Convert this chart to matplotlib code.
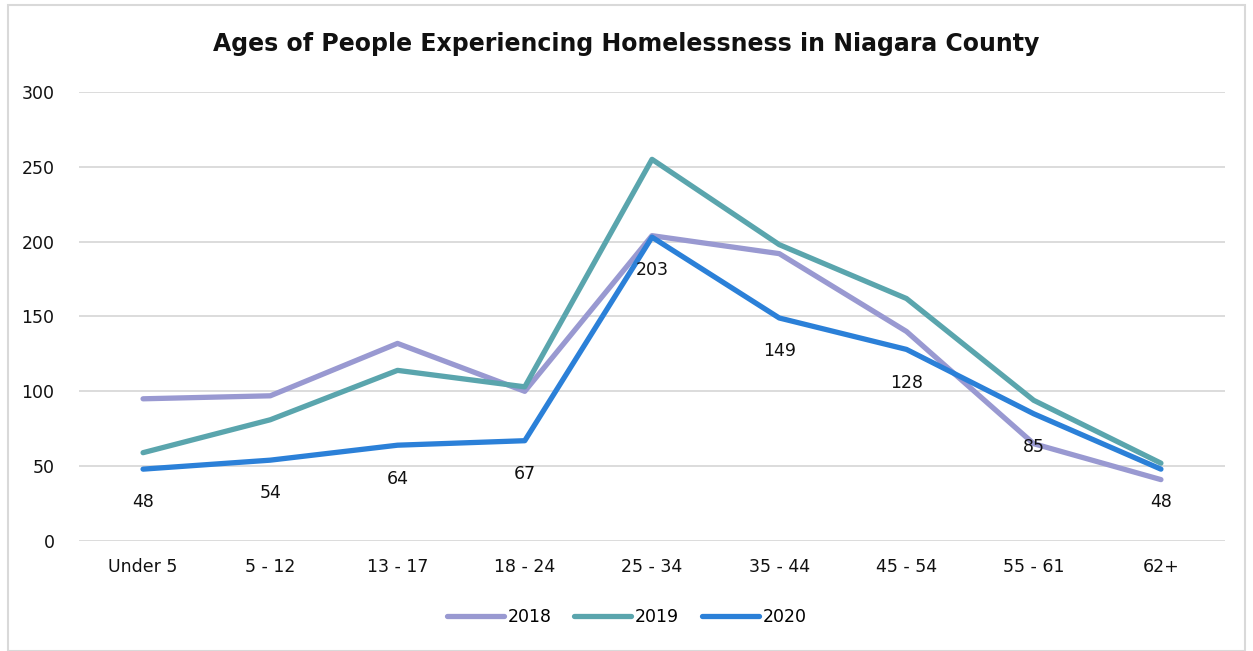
import matplotlib.pyplot as plt
from matplotlib.patches import Rectangle

categories = ["Under 5", "5 - 12", "13 - 17", "18 - 24", "25 - 34", "35 - 44", "45 - 54", "55 - 61", "62+"]
y2018 = [95, 97, 132, 100, 204, 192, 140, 65, 41]
y2019 = [59, 81, 114, 103, 255, 198, 162, 94, 52]
y2020 = [48, 54, 64, 67, 203, 149, 128, 85, 48]

colors = {"2018": "#9999d1", "2019": "#5aa5ad", "2020": "#2b80d8"}

plt.rcParams['font.family'] = ['DejaVu Sans']

fig = plt.figure(figsize=(12.53, 6.51), dpi=100)
ax = fig.add_axes([0.0634, 0.169, 0.9139, 0.6897])

x = range(len(categories))
ax.plot(x, y2018, color=colors["2018"], lw=3.8, label="2018", solid_capstyle='round')
ax.plot(x, y2019, color=colors["2019"], lw=3.8, label="2019", solid_capstyle='round')
ax.plot(x, y2020, color=colors["2020"], lw=3.8, label="2020", solid_capstyle='round')

# data labels for 2020 under each point
for i, v in enumerate(y2020):
    ax.annotate(str(v), (i, v), xytext=(0, -24), textcoords='offset points',
                ha='center', va='center', fontsize=12.5, color='#111111')

ax.set_xlim(-0.5, len(categories) - 0.5)
ax.set_ylim(0, 300)
ax.set_yticks(range(0, 301, 50))
ax.set_xticks(list(x))
ax.set_xticklabels(categories)
ax.grid(axis='y', color='#d9d9d9', lw=1.3)
ax.set_axisbelow(True)
for s in ax.spines.values():
    s.set_visible(False)
ax.tick_params(length=0, labelsize=12.5, colors='#111111')
ax.tick_params(axis='y', pad=18)
ax.tick_params(axis='x', pad=12)

fig.text(0.5, 0.932, "Ages of People Experiencing Homelessness in Niagara County",
         ha='center', va='center', fontsize=17, fontweight='bold', color='#111111')

fig.legend(loc='center', bbox_to_anchor=(0.5, 0.052), ncol=3, frameon=False,
           fontsize=12.5, handlelength=3.3, columnspacing=1.3, handletextpad=0.2)

fig.patches.append(Rectangle((0.006, 0.0), 0.988, 0.992, transform=fig.transFigure,
                             fill=False, edgecolor='#d9d9d9', lw=1.5))

fig.savefig("out.png", dpi=100)
